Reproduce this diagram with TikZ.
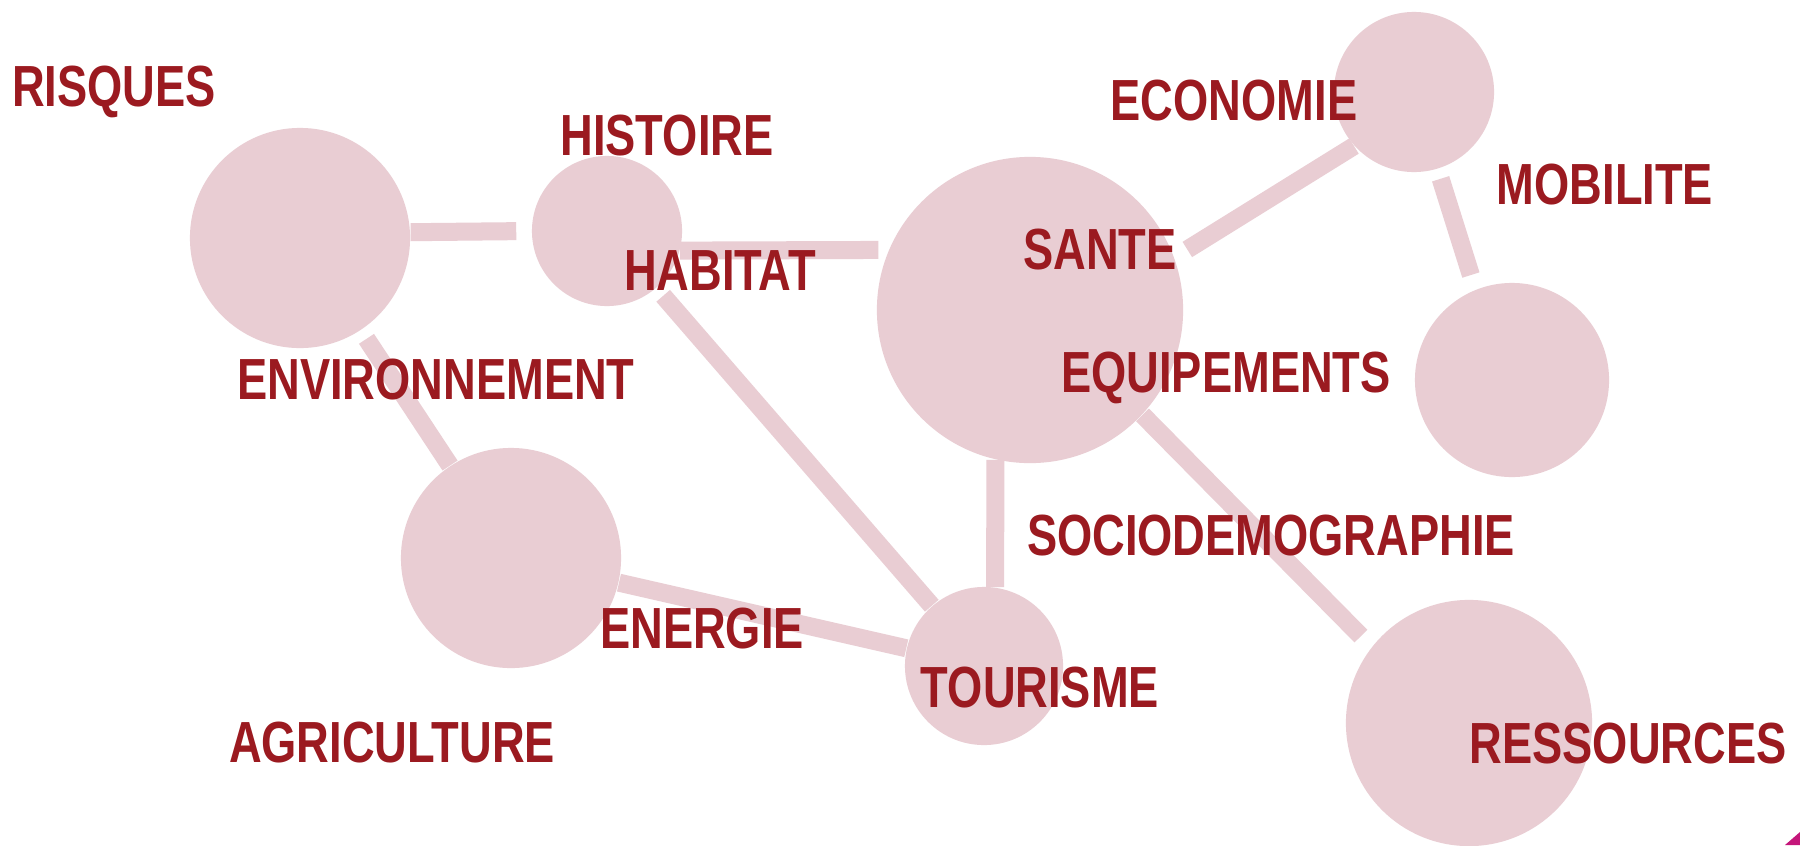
\documentclass[tikz,border=0pt]{standalone}
\usepackage{fontspec}
\setmainfont{Liberation Sans}[FakeStretch=0.78]
\usetikzlibrary{positioning}
\definecolor{pink_fill}{RGB}{233,205,211}
\definecolor{theme_red}{RGB}{155,26,32}
\definecolor{corner_magenta}{RGB}{196,22,122}
\tikzset{
        % Topic circles
        node_circle/.style={circle, draw=none, fill=pink_fill, inner sep=0pt, minimum size=#1*0.02cm},
        % Links between circles
        link/.style={draw=pink_fill, line width=0.18cm},
        % Topic labels
        node_label/.style={text=theme_red, inner sep=0pt, font=\bfseries\fontsize{16.5}{16.5}\selectfont}
}

\begin{document}
\begin{tikzpicture}[x=0.01cm, y=-0.01cm]
    \fill[white] (0,0) rectangle (1800,845);
    \useasboundingbox (0,0) rectangle (1800,845);

    % circles
    \node[node_circle=110] (risques) at (300,238) {};
    \node[node_circle=75] (histoire) at (607,231) {};
    \node[node_circle=153] (sante) at (1030,310) {};
    \node[node_circle=80] (economie) at (1414,92) {};
    \node[node_circle=97] (mobilite) at (1512,380) {};
    \node[node_circle=110] (agriculture) at (511,558) {};
    \node[node_circle=79] (tourisme) at (984,666) {};
    \node[node_circle=123] (ressources) at (1469,723) {};

    % links
    \draw[link, shorten >=0.15cm] (risques.3) -- (histoire.180);
    \draw[link, shorten >=0.1cm] (histoire.-15) -- (sante.157);
    \draw[link, shorten <=0.1cm] (risques) -- (agriculture);
    \draw[link, shorten <=0.1cm] (histoire) -- (tourisme);
    \draw[link] (agriculture) -- (tourisme);
    \draw[link] (sante.-103) -- (tourisme.82);
    \draw[link, shorten <=0.15cm] (sante.20) -- (economie.222);
    \draw[link, shorten <=0.1cm, shorten >=0.15cm] (economie.-73) -- (mobilite.112);
    \draw[link, shorten >=0.15cm] (sante.-43) -- (ressources.142);

    % labels
    \node[node_label] (l_risques) at (114,92) {RISQUES};
    \node[node_label] (l_histoire) at (667,136) {HISTOIRE};
    \node[node_label] (l_habitat) at (720,271) {HABITAT};
    \node[node_label] (l_environnement) at (436,380) {ENVIRONNEMENT};
    \node[node_label] (l_economie) at (1234,101) {ECONOMIE};
    \node[node_label] (l_mobilite) at (1605,185) {MOBILITE};
    \node[node_label] (l_sante) at (1100,250) {SANTE};
    \node[node_label] (l_equipements) at (1226,378) {EQUIPEMENTS};
    \node[node_label] (l_socio) at (1271,536) {SOCIODEMOGRAPHIE};
    \node[node_label] (l_energie) at (702,629) {ENERGIE};
    \node[node_label] (l_tourisme) at (1040,688) {TOURISME};
    \node[node_label] (l_agriculture) at (392,743) {AGRICULTURE};
    \node[node_label] (l_ressources) at (1628,744) {RESSOURCES};

    % corner mark
    \fill[corner_magenta] (1785,845) -- (1800,832) -- (1800,845) -- cycle;
\end{tikzpicture}
\end{document}
